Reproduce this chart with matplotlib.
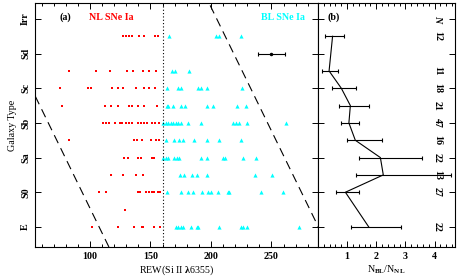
import matplotlib
matplotlib.use('Agg')
import matplotlib.pyplot as plt
import numpy as np
from matplotlib.ticker import MultipleLocator, FixedLocator

plt.rcParams['font.family'] = ['Liberation Serif', 'DejaVu Serif']
plt.rcParams['font.weight'] = 'bold'
plt.rcParams['mathtext.fontset'] = 'custom'
plt.rcParams['mathtext.rm'] = 'Liberation Serif:bold'
plt.rcParams['mathtext.it'] = 'Liberation Serif:italic:bold'
plt.rcParams['mathtext.default'] = 'rm'

# ---------------- data ----------------
galaxy_types = ['E', 'S0', 'Sa', 'Sb', 'Sc', 'Sd', 'Irr']
type_pos = [0, 1, 2, 3, 4, 5, 6]

# NL SNe Ia: REW(Si II 6355) per galaxy-type row
nl_rows = [0.0, 0.5, 1.0, 1.5, 2.0, 2.5, 3.0, 3.5, 4.0, 4.5, 5.5]
nl_rew = [
    [101.4, 123.4, 136.6, 142.7, 144.0, 152.9, 157.9],
    [128.9],
    [107.7, 113.2, 139.4, 141.3, 146.3, 149.0, 151.0, 152.9, 156.4, 157.9],
    [117.1, 127.5, 138.0, 143.5],
    [128.1, 131.2, 139.9, 142.1, 151.5, 152.9],
    [82.9, 136.6, 139.1, 143.2, 150.1, 154.5, 157.3],
    [111.0, 113.0, 115.7, 120.7, 124.8, 126.7, 129.8, 132.5, 134.5, 139.4,
     142.1, 144.9, 146.8, 151.0, 153.7, 157.0],
    [77.1, 112.4, 117.4, 122.9, 132.5, 134.5, 139.9, 144.4, 155.6],
    [75.2, 98.6, 100.6, 117.9, 122.9, 127.5, 138.0, 144.6, 149.0, 153.7],
    [82.9, 105.0, 116.5, 130.3, 135.8, 144.0, 148.8, 154.3],
    [127.3, 129.8, 132.2, 134.7, 140.5, 145.0, 154.1, 156.6],
]

# BL SNe Ia
bl_rows = [0.0, 1.0, 1.5, 2.0, 2.5, 3.0, 3.5, 4.0, 4.5, 5.5]
bl_rew = [
    [170.8, 173.0, 175.0, 177.1, 183.2, 188.2, 189.5, 206.9, 224.5, 226.7, 230.0, 273.0],
    [163.9, 175.2, 180.7, 184.9, 192.8, 197.3, 199.8, 206.0, 213.8, 215.1, 241.3, 259.3],
    [174.4, 177.9, 184.5, 188.7, 196.9, 236.4, 250.7],
    [160.6, 162.8, 164.7, 169.7, 172.1, 173.8, 191.5, 196.9, 209.7, 211.6, 226.7, 236.9],
    [162.8, 169.7, 173.8, 177.1, 186.0, 196.9, 206.9, 224.5],
    [160.6, 162.5, 164.7, 166.7, 168.3, 170.8, 173.0, 175.0, 181.2, 191.5,
     218.4, 220.4, 223.1, 229.5, 261.7],
    [163.4, 164.7, 168.3, 175.0, 178.5, 196.4, 201.9, 221.5, 228.7],
    [163.4, 172.5, 175.0, 189.0, 191.5, 196.7, 225.9],
    [167.5, 170.2, 182.1],
    [165.6, 204.1, 206.4, 225.0],
]

rew_divide = 160.0
typical_err_x = [250.0]
typical_err_y = [5.0]
typical_err = [11.5]
cut_intercepts = [107.5, 288.8]   # REW at E row
cut_slope = -14.0                 # REW change per type step

# panel (b): N_BL / N_NL
ratio_y = [0.0, 1.0, 1.5, 2.0, 2.5, 3.0, 3.5, 4.0, 4.5, 5.5]
ratio = [1.74, 0.94, 2.24, 2.14, 1.28, 1.06, 1.11, 0.80, 0.38, 0.50]
ratio_lo = [1.14, 0.63, 1.29, 1.40, 0.99, 0.78, 0.72, 0.49, 0.15, 0.24]
ratio_hi = [2.84, 1.39, 4.57, 3.57, 2.19, 1.40, 1.74, 1.29, 0.69, 0.88]
counts = [22, 27, 13, 22, 16, 47, 21, 18, 11, 12]

# ---------------- figure ----------------
W, H = 457, 277
fig = plt.figure(figsize=(W / 100, H / 100), dpi=100)
bot = (H - 247) / H
top = (H - 3) / H
axa = fig.add_axes([35 / W, bot, (318 - 35) / W, top - bot])
axb = fig.add_axes([318 / W, bot, (455 - 318) / W, top - bot])

ylim = (-0.58, 6.46)
fs = 7.2

for y, vals in zip(nl_rows, nl_rew):
    axa.plot(vals, [y] * len(vals), 's', color='#ff0000', ms=2.0, mew=0, ls='none')
for y, vals in zip(bl_rows, bl_rew):
    axa.plot(vals, [y] * len(vals), '^', color='#00ffff', ms=3.0, mew=0, ls='none')

axa.axvline(rew_divide, color='black', ls=(0, (1, 2)), lw=0.8)
yy = np.array(ylim)
for c in cut_intercepts:
    axa.plot(c + cut_slope * yy, yy, color='black', lw=0.8, dashes=(8, 5))

axa.errorbar(typical_err_x, typical_err_y, xerr=typical_err, fmt='o', color='black',
             ms=1.5, lw=0.8, capsize=1.5, capthick=0.8)

axa.set_xlim(54.5, 288.5)
axa.set_ylim(*ylim)
axa.xaxis.set_major_locator(FixedLocator([100, 150, 200, 250]))
axa.xaxis.set_minor_locator(MultipleLocator(10))
axa.yaxis.set_major_locator(FixedLocator(type_pos))
axa.set_yticklabels(galaxy_types, rotation=90, va='center', fontsize=fs)
axa.tick_params(axis='x', labelsize=fs)
axa.tick_params(which='both', direction='in', top=True, right=True, width=0.7)
axa.tick_params(which='major', length=4)
axa.tick_params(which='minor', length=2)
axa.set_xlabel(r'REW(Si II $\lambda$6355)', fontsize=fs, labelpad=2)
axa.set_ylabel('Galaxy Type', fontsize=fs, labelpad=3)
axa.text(0.088, 0.93, '(a)', transform=axa.transAxes, fontsize=fs, color='black')
axa.text(0.19, 0.93, 'NL SNe Ia', transform=axa.transAxes, fontsize=fs, color='#ff0000')
axa.text(0.80, 0.93, 'BL SNe Ia', transform=axa.transAxes, fontsize=fs, color='#00ffff')

# panel b
xerr = [np.array(ratio) - np.array(ratio_lo), np.array(ratio_hi) - np.array(ratio)]
axb.errorbar(ratio, ratio_y, xerr=xerr, fmt='-', color='black', lw=0.8,
             capsize=1.5, capthick=0.8, elinewidth=0.8)
axb.set_xlim(0, 4.7)
axb.set_ylim(*ylim)
axb.xaxis.set_major_locator(FixedLocator([1, 2, 3, 4]))
axb.xaxis.set_minor_locator(MultipleLocator(0.2))
axb.yaxis.set_major_locator(FixedLocator(type_pos))
axb.set_yticklabels([])
axb.tick_params(axis='x', labelsize=fs)
axb.tick_params(which='both', direction='in', top=True, right=True, width=0.7)
axb.tick_params(which='major', length=4)
axb.tick_params(which='minor', length=2)
axb.set_xlabel(r'N$_{\rm BL}$/N$_{\rm NL}$', fontsize=fs, labelpad=2)
axb.text(0.07, 0.93, '(b)', transform=axb.transAxes, fontsize=fs)
axb.text(4.1, 6.0, 'N', fontsize=fs, style='italic', rotation=-90, ha='center', va='center')
for y, n in zip(ratio_y, counts):
    axb.text(4.1, y, str(n), fontsize=fs, rotation=-90, ha='center', va='center')

for ax in (axa, axb):
    for s in ax.spines.values():
        s.set_linewidth(0.8)

fig.savefig('out.png', dpi=100)
